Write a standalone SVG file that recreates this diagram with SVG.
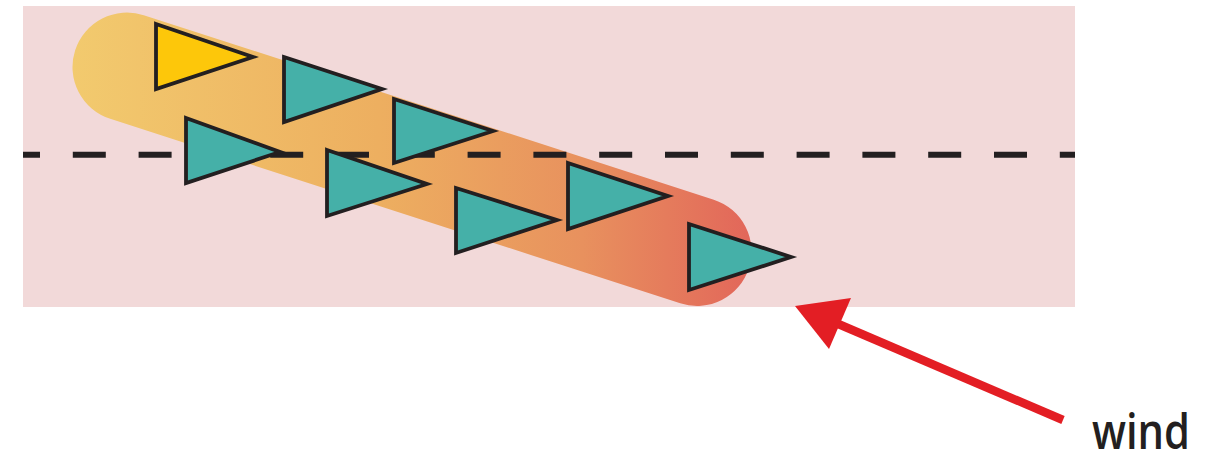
<svg xmlns="http://www.w3.org/2000/svg" width="1227" height="454" viewBox="0 0 1227 454">
<style>
.tri{fill:#45B0A8;stroke:#231F20;stroke-width:3.8;stroke-linejoin:miter}
.lead{fill:#FDC70A}
.dash{stroke:#231F20;stroke-width:6;stroke-dasharray:33 32.8;stroke-dashoffset:16}
.lbl{font-family:"Open Sans","Liberation Sans",sans-serif;font-weight:600;font-size:48px;fill:#231F20}
</style>
<defs>
<linearGradient id="g" gradientUnits="userSpaceOnUse" x1="72" y1="0" x2="752" y2="0">
<stop offset="0" stop-color="#F2CA6E"/>
<stop offset="0.45" stop-color="#EDAF60"/>
<stop offset="0.75" stop-color="#E8915E"/>
<stop offset="1" stop-color="#E2665A"/>
</linearGradient>
</defs>
<rect id="field" x="23" y="6" width="1052" height="301" fill="#F2D9D9"/>
<g id="formation-band">
<line x1="127" y1="67" x2="697" y2="251.5" stroke="url(#g)" stroke-width="109" stroke-linecap="round"/>
</g>
<g id="connectors">
<line class="dash" x1="23" y1="154.7" x2="1075" y2="154.7"/>
<line x1="1063" y1="420" x2="836" y2="323" stroke="#E31E24" stroke-width="8.5"/>
<polygon points="795,306 851,298 829,349" fill="#E31E24"/>
</g>
<g id="bird-lead"><polygon class="tri lead" points="156,24 253,57 156,89"/></g>
<g id="bird-2"><polygon class="tri" points="284,57 382,89 284,122"/></g>
<g id="bird-3"><polygon class="tri" points="394,99 493,131 394,163"/></g>
<g id="bird-4"><polygon class="tri" points="186,118 280,152 186,183"/></g>
<g id="bird-5"><polygon class="tri" points="327,150 427,184 327,216"/></g>
<g id="bird-6"><polygon class="tri" points="456,188 557,220 456,253"/></g>
<g id="bird-7"><polygon class="tri" points="568,163 668,196 568,229"/></g>
<g id="bird-8"><polygon class="tri" points="689,224 791,257 689,290"/></g>
<g id="label-wind"><text class="lbl" x="1092" y="449" textLength="98" lengthAdjust="spacingAndGlyphs">wind</text></g>
</svg>
